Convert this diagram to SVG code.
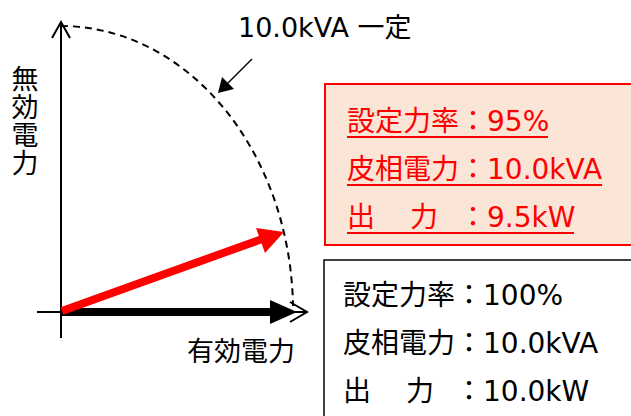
<svg xmlns="http://www.w3.org/2000/svg" width="631" height="416" viewBox="0 0 631 416">
<defs>
<style>
text{font-family:'DejaVu Sans','Noto Sans CJK JP',sans-serif;font-size:27px;fill:#000}
.bx text{font-size:28px}
.red text{fill:#FF0000}
.ax{stroke:#000;stroke-width:2;fill:none}
</style>
</defs>
<rect width="631" height="416" fill="#fff"/>
<g id="connectors">
<path class="ax" d="M61,338 V22"/>
<path class="ax" d="M52,38 L61,22 L70,38"/>
<path class="ax" d="M37,312 H307"/>
<path class="ax" d="M290,302 L307,312 L290,322"/>
<path d="M61,26 A232,286 0 0 1 293,306" fill="none" stroke="#000" stroke-width="2" stroke-dasharray="7,5"/>
<path d="M252,59 L222,89" stroke="#000" stroke-width="1.5"/>
<path d="M218,93 L222,77 L234,89 Z" fill="#000"/>
<path d="M61,312 H272" stroke="#000" stroke-width="8"/>
<path d="M270,300 L297,312 L270,324 Z" fill="#000"/>
<path d="M62,311 L262,239" stroke="#FF0000" stroke-width="8"/>
<path d="M256,228 L284,232 L265,253 Z" fill="#FF0000"/>
</g>
<g id="label-const"><text x="238" y="37">10.0kVA 一定</text></g>
<g id="label-q">
<text x="25" y="89" text-anchor="middle">無</text>
<text x="25" y="117" text-anchor="middle">効</text>
<text x="25" y="145" text-anchor="middle">電</text>
<text x="25" y="173" text-anchor="middle">力</text>
</g>
<g id="label-p"><text x="241" y="361" text-anchor="middle">有効電力</text></g>
<g id="box-95" class="red bx">
<rect x="325" y="84" width="320" height="161" fill="#FBE5D6" stroke="#FF0000" stroke-width="2"/>
<text x="347" y="131">設定力率：95%</text>
<line x1="347" y1="137" x2="548" y2="137" stroke="#FF0000" stroke-width="2"/>
<text x="347" y="179">皮相電力：10.0kVA</text>
<line x1="347" y1="185" x2="602" y2="185" stroke="#FF0000" stroke-width="2"/>
<text y="227"><tspan x="347">出</tspan><tspan x="410">力</tspan><tspan x="459">：9.5kW</tspan></text>
<line x1="347" y1="233" x2="574" y2="233" stroke="#FF0000" stroke-width="2"/>
</g>
<g id="box-100" class="bx">
<rect x="324" y="260" width="330" height="180" fill="#fff" stroke="#000" stroke-width="1.5"/>
<text x="343" y="305">設定力率：100%</text>
<text x="343" y="353">皮相電力：10.0kVA</text>
<text y="401"><tspan x="343">出</tspan><tspan x="406">力</tspan><tspan x="455">：10.0kW</tspan></text>
</g>
</svg>
